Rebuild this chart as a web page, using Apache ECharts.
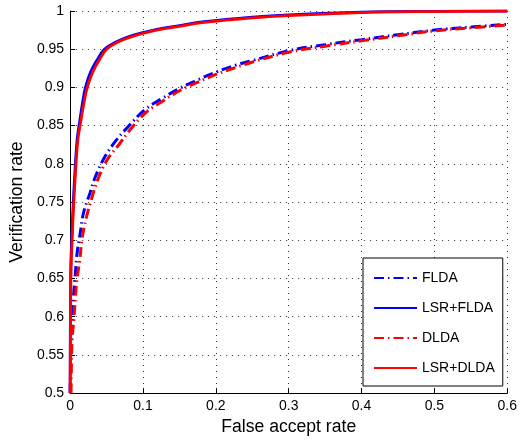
<!DOCTYPE html>
<html>
<head>
<meta charset="utf-8">
<script src="https://cdn.jsdelivr.net/npm/echarts@6/dist/echarts.min.js"></script>
<style>
  html, body { margin: 0; padding: 0; background: #fff; }
  #chart { width: 520px; height: 441px; }
</style>
</head>
<body>
<div id="chart"></div>
<script>
// ROC-style curves: verification rate against false accept rate
const seriesNames = ['FLDA', 'LSR+FLDA', 'DLDA', 'LSR+DLDA'];

const farFlda = [0, 0.0008, 0.0018, 0.0027, 0.0045, 0.0071, 0.0094, 0.0139, 0.0184, 0.0273, 0.0354, 0.0475, 0.0633, 0.08, 0.1027, 0.1252, 0.1507, 0.1754, 0.2001, 0.227, 0.2494, 0.3, 0.35, 0.4, 0.45, 0.5, 0.55, 0.6];
const vrFlda  = [0.5, 0.54, 0.57, 0.591, 0.625, 0.656, 0.682, 0.71, 0.736, 0.762, 0.785, 0.809, 0.831, 0.849, 0.871, 0.885, 0.899, 0.91, 0.92, 0.929, 0.935, 0.948, 0.956, 0.9625, 0.969, 0.975, 0.979, 0.9825];

const farLsrFlda = [0, 0.0003, 0.0009, 0.0021, 0.0043, 0.0072, 0.0097, 0.013, 0.017, 0.021, 0.028, 0.037, 0.047, 0.062, 0.0857, 0.117, 0.15, 0.184, 0.25, 0.3, 0.4, 0.5, 0.6];
const vrLsrFlda  = [0.5, 0.6, 0.6645, 0.7, 0.75, 0.8, 0.833, 0.855, 0.88, 0.9, 0.92, 0.936, 0.95, 0.959, 0.968, 0.9755, 0.981, 0.986, 0.992, 0.995, 0.9985, 0.9996, 1.0];

const farDlda = [0.0012, 0.0016, 0.0022, 0.0035, 0.005, 0.0071, 0.0094, 0.0131, 0.0162, 0.022, 0.0296, 0.0386, 0.0507, 0.0677, 0.081, 0.1027, 0.1252, 0.1507, 0.1754, 0.2001, 0.227, 0.2494, 0.3, 0.35, 0.4, 0.45, 0.5, 0.55, 0.6];
const vrDlda  = [0.5, 0.53, 0.56, 0.58, 0.5955, 0.6234, 0.6494, 0.673, 0.701, 0.729, 0.755, 0.781, 0.805, 0.826, 0.843, 0.866, 0.881, 0.896, 0.907, 0.917, 0.926, 0.933, 0.946, 0.954, 0.961, 0.9675, 0.974, 0.978, 0.9815];

const farLsrDlda = [0, 0.0005, 0.0013, 0.0027, 0.005, 0.0081, 0.0108, 0.0145, 0.019, 0.0235, 0.031, 0.04, 0.05, 0.065, 0.0857, 0.117, 0.15, 0.184, 0.25, 0.3, 0.4, 0.5, 0.6];
const vrLsrDlda  = [0.5, 0.6, 0.6645, 0.7, 0.75, 0.8, 0.833, 0.855, 0.88, 0.9, 0.92, 0.936, 0.95, 0.959, 0.9667, 0.9745, 0.98, 0.985, 0.991, 0.994, 0.998, 0.9993, 1.0];

const xTicks = { min: 0, max: 0.6, step: 0.1 };
const yTicks = { min: 0.5, max: 1, step: 0.05 };

const pairs = (xs, ys) => xs.map((x, i) => [x, ys[i]]);

const FONT = '"Liberation Sans", Arial, Helvetica, sans-serif';
const dashDot = [10, 4, 1.5, 4];

function curve(name, xs, ys, color, dashed) {
  return {
    name: name,
    type: 'line',
    data: pairs(xs, ys),
    showSymbol: false,
    symbol: 'none',
    smooth: 0.4,
    clip: true,
    lineStyle: {
      color: color,
      width: dashed ? 3 : 2.8,
      type: dashed ? dashDot : 'solid'
    },
    itemStyle: { color: color },
    emphasis: { disabled: true },
    animation: false
  };
}

const axisCommon = {
  type: 'value',
  nameLocation: 'middle',
  nameTextStyle: { fontFamily: FONT, fontSize: 17.6, color: '#000' },
  axisLine: { show: true, onZero: false, lineStyle: { color: '#000', width: 1 } },
  axisTick: { show: true, inside: true, length: 5, lineStyle: { color: '#000' } },
  axisLabel: { fontFamily: FONT, fontSize: 14, color: '#000', margin: 6 },
  splitLine: { show: true, lineStyle: { color: '#333', width: 1, type: [1, 5] } }
};

const chart = echarts.init(document.getElementById('chart'), null, { renderer: 'canvas' });
chart.setOption({
  backgroundColor: '#ffffff',
  animation: false,
  grid: { left: 63, right: 11, top: 11, bottom: 44, containLabel: false },
  xAxis: Object.assign({}, axisCommon, {
    min: xTicks.min, max: xTicks.max, interval: xTicks.step,
    name: 'False accept rate',
    nameGap: 21
  }),
  yAxis: Object.assign({}, axisCommon, {
    min: yTicks.min, max: yTicks.max, interval: yTicks.step,
    name: 'Verification rate',
    nameGap: 41
  }),
  legend: {
    orient: 'vertical',
    left: 363,
    top: 258,
    padding: [13, 8, 11, 10],
    itemWidth: 43,
    itemHeight: 14,
    itemGap: 16,
    borderColor: '#000',
    borderWidth: 1,
    borderRadius: 0,
    backgroundColor: '#fff',
    selectedMode: false,
    itemStyle: { opacity: 0, borderWidth: 0 },
    textStyle: { fontFamily: FONT, fontSize: 14, color: '#000' },
    data: seriesNames
  },
  series: [
    curve(seriesNames[0], farFlda, vrFlda, '#0000ff', true),
    curve(seriesNames[1], farLsrFlda, vrLsrFlda, '#0000ff', false),
    curve(seriesNames[2], farDlda, vrDlda, '#ff0000', true),
    curve(seriesNames[3], farLsrDlda, vrLsrDlda, '#ff0000', false)
  ]
});
</script>
</body>
</html>
